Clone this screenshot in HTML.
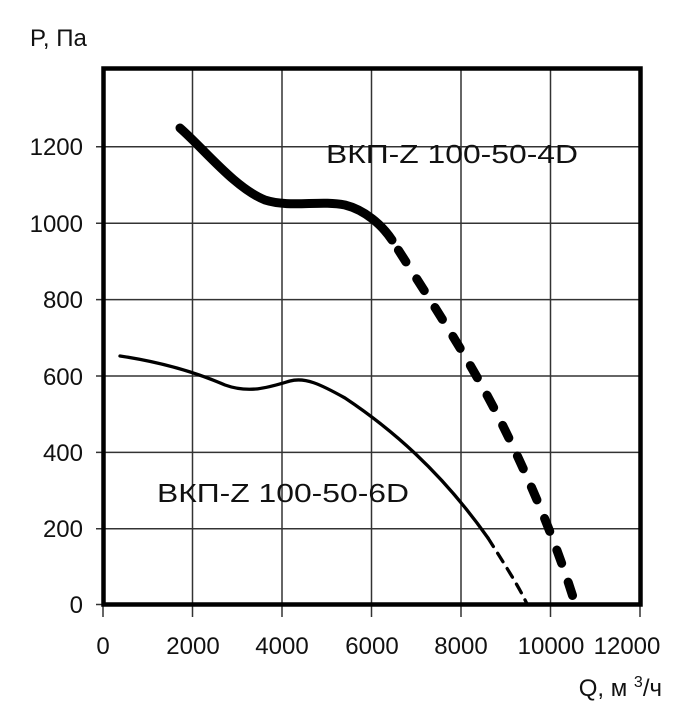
<!DOCTYPE html>
<html><head><meta charset="utf-8"><style>
body{margin:0;background:#fff}
svg text{font-family:"Liberation Sans","DejaVu Sans",sans-serif;fill:#111}
</style></head><body>
<svg width="677" height="710" viewBox="0 0 677 710" xmlns="http://www.w3.org/2000/svg">
<g stroke="#333" stroke-width="1.5">
<line x1="192.5" y1="68" x2="192.5" y2="617"/>
<line x1="282" y1="68" x2="282" y2="617"/>
<line x1="371.5" y1="68" x2="371.5" y2="617"/>
<line x1="461" y1="68" x2="461" y2="617"/>
<line x1="550.5" y1="68" x2="550.5" y2="617"/>
<line x1="640" y1="604" x2="640" y2="617"/>
<line x1="96" y1="146.7" x2="640" y2="146.7"/>
<line x1="96" y1="223.2" x2="640" y2="223.2"/>
<line x1="96" y1="299.6" x2="640" y2="299.6"/>
<line x1="96" y1="376" x2="640" y2="376"/>
<line x1="96" y1="452.4" x2="640" y2="452.4"/>
<line x1="96" y1="528.8" x2="640" y2="528.8"/>
<line x1="96" y1="604.5" x2="103" y2="604.5"/>
<line x1="103" y1="604" x2="103" y2="617"/>
</g>
<rect x="103.5" y="68.5" width="537" height="536" fill="none" stroke="#000" stroke-width="4.5"/>
<g fill="none" stroke="#000" stroke-linecap="round">
<path d="M180,128 C205,150 235,188 265,200 C290,208 320,200 345,205 C365,210 382,225 392,240" stroke-width="9"/>
<path d="M392,240 C430,300 470,360 500,420 C530,480 555,540 573,597" stroke-width="9" stroke-dasharray="14 20" stroke-dashoffset="-12"/>
<path d="M120,356 C160,362 195,372 225,385 C250,394 270,387 290,381 C305,377 320,384 345,398 C390,428 440,470 488,538" stroke-width="3.3"/>
<path d="M488,538 C505,565 518,585 527,604" stroke-width="3.3" stroke-dasharray="10 8"/>
</g>
<g font-size="24" text-anchor="end">
<text x="83" y="155">1200</text>
<text x="83" y="232">1000</text>
<text x="83" y="308">800</text>
<text x="83" y="385">600</text>
<text x="83" y="461">400</text>
<text x="83" y="537">200</text>
<text x="83" y="613">0</text>
</g>
<g font-size="24" text-anchor="middle">
<text x="103" y="654">0</text>
<text x="193" y="654">2000</text>
<text x="282" y="654">4000</text>
<text x="372" y="654">6000</text>
<text x="461" y="654">8000</text>
<text x="551" y="654">10000</text>
<text x="627" y="654">12000</text>
</g>
<text x="30" y="46" font-size="24">P, Па</text>
<text x="662" y="696" font-size="24" text-anchor="end">Q, м <tspan font-size="16" dy="-9">3</tspan><tspan dy="9">/ч</tspan></text>
<text x="326" y="163" font-size="26" textLength="252" lengthAdjust="spacingAndGlyphs">ВКП-Z 100-50-4D</text>
<text x="157" y="502" font-size="26" textLength="252" lengthAdjust="spacingAndGlyphs">ВКП-Z 100-50-6D</text>
</svg>
</body></html>
